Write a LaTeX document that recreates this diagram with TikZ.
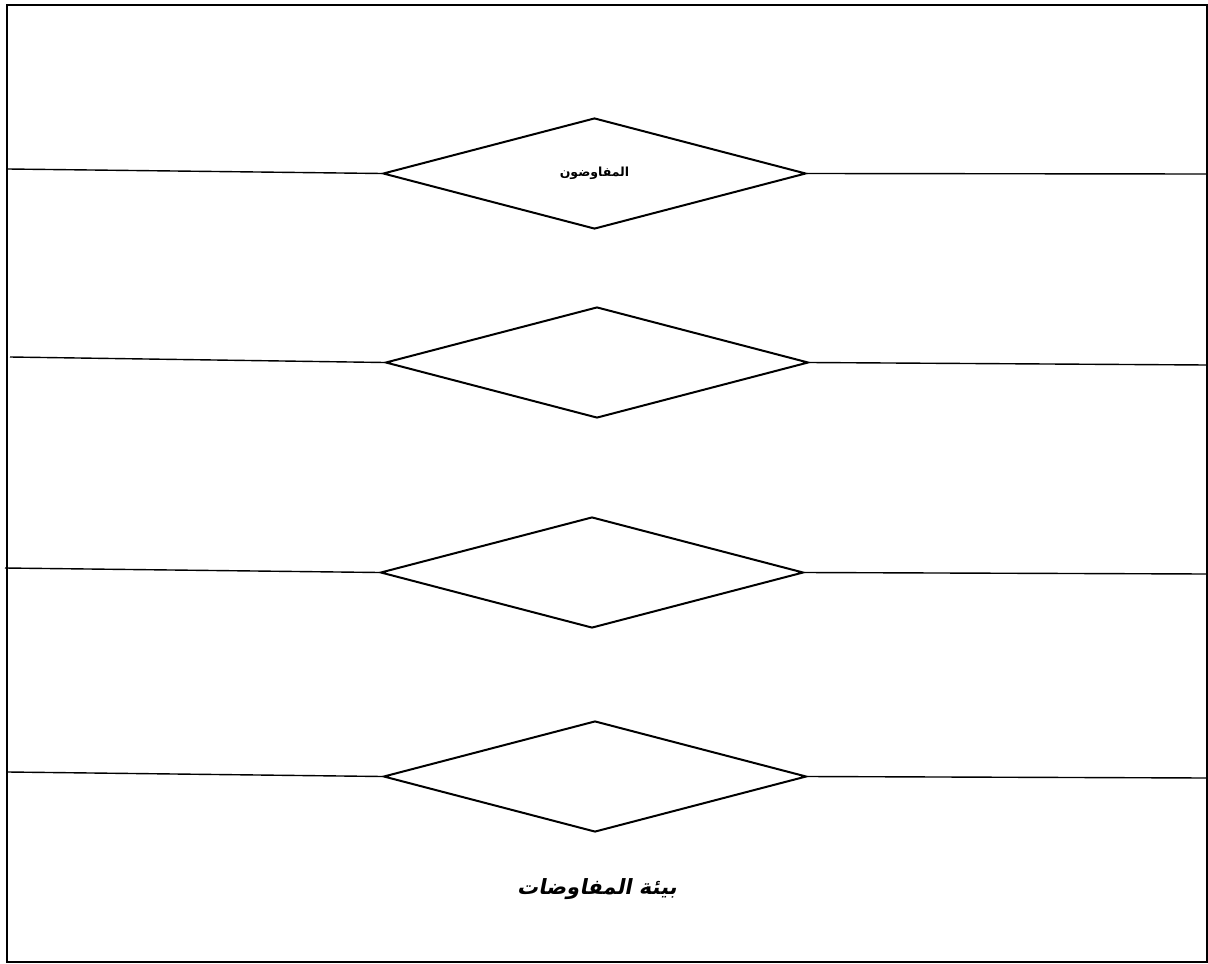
\documentclass[tikz,border=0pt]{standalone}
\usepackage{fontspec}
\newfontfamily\arabicfont[Script=Arabic]{DejaVu Sans}
\newfontfamily\arabicslant[Script=Arabic,FakeSlant=0.2]{DejaVu Sans Bold}
\TeXXeTstate=1
\usetikzlibrary{shapes.geometric}
\begin{document}
\begin{tikzpicture}[x=1pt,y=-1pt,
  dia/.style={draw,line width=2pt,diamond,inner sep=0pt,minimum width=423pt,minimum height=111pt,aspect=3.8},
  conn/.style={line width=1.4pt}]
\useasboundingbox (0,0) rectangle (1208,964);
\draw[line width=2.2pt] (7,5) rectangle (1207,962);
\node[dia] (d1) at (594.5,173.5) {\arabicfont\bfseries\fontsize{12.5}{15}\selectfont\beginR المفاوضون\endR};
\node[dia] (d2) at (597,362.5) {};
\node[dia] (d3) at (592,572.5) {};
\node[dia] (d4) at (595,776.5) {};
\coordinate (l1) at (8,169); \coordinate (r1) at (1207,174);
\coordinate (l2) at (10,357); \coordinate (r2) at (1207,365);
\coordinate (l3) at (5,568); \coordinate (r3) at (1207,574);
\coordinate (l4) at (8,772); \coordinate (r4) at (1207,778);
\foreach \i in {1,2,3,4} {
  \draw[conn] (l\i) -- (d\i.west);
  \draw[conn] (d\i.east) -- (r\i);
}
\node (title) at (597,889) {\arabicslant\fontsize{21}{25}\selectfont\beginR بيئة المفاوضات\endR};
\end{tikzpicture}
\end{document}
